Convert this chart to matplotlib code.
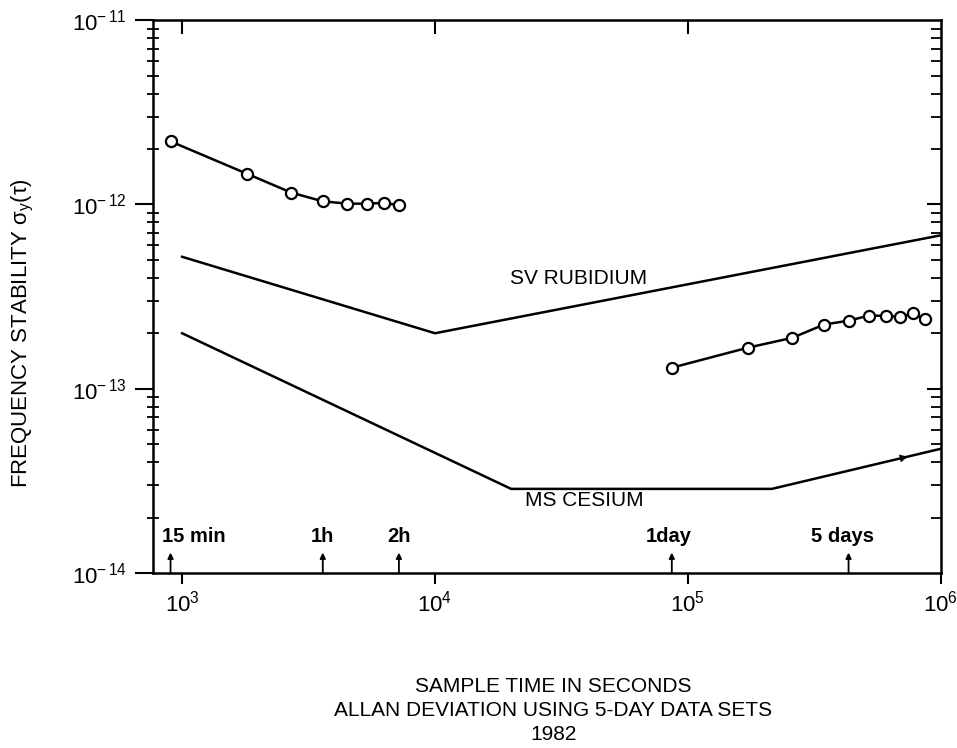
import numpy as np
import matplotlib
matplotlib.use('Agg')
import matplotlib.pyplot as plt
from matplotlib.ticker import LogLocator, NullFormatter, FixedLocator

plt.rcParams['font.family'] = ['Liberation Sans', 'DejaVu Sans']
plt.rcParams['mathtext.fontset'] = 'custom'
plt.rcParams['mathtext.rm'] = 'Liberation Sans'
plt.rcParams['mathtext.it'] = 'Liberation Sans:italic'

# measured points (seconds, Allan deviation)
tau_short = [900, 1800, 2700, 3600, 4500, 5400, 6300, 7200]
sig_short = [2.2e-12, 1.47e-12, 1.16e-12, 1.04e-12, 1.01e-12, 1.01e-12, 1.02e-12, 0.99e-12]

tau_long = [86400, 172800, 259200, 345600, 432000, 518400, 604800, 691200, 777600, 864000]
sig_long = [1.30e-13, 1.67e-13, 1.89e-13, 2.23e-13, 2.34e-13, 2.49e-13, 2.49e-13, 2.45e-13, 2.56e-13, 2.38e-13]

# spec lines
tau_rb = [1e3, 1e4, 1e6]
sig_rb = [5.2e-13, 2.0e-13, 6.8e-13]
tau_cs = [1e3, 2.0e4, 2.15e5, 1e6]
sig_cs = [2.0e-13, 2.86e-14, 2.86e-14, 4.72e-14]

# marker arrows along the bottom
mark_tau = [900, 3600, 7200, 86400, 432000]
mark_lab = ['15 min', '1h', '2h', '1day', '5 days']
mark_dx = [17, 0, 0, -2, -4]   # label offset in points

fig = plt.figure(figsize=(9.57, 7.48), dpi=100)
ax = fig.add_axes([0.160, 0.234, 0.823, 0.739])
ax.set_xscale('log')
ax.set_yscale('log')
ax.set_xlim(768, 1e6)
ax.set_ylim(1e-14, 1e-11)

lw = 1.8
ax.plot(tau_rb, sig_rb, color='black', lw=lw)
ax.plot(tau_cs, sig_cs, color='black', lw=lw)
ax.plot(tau_short, sig_short, color='black', lw=lw, marker='o', ms=8,
        mfc='white', mec='black', mew=1.6)
ax.plot(tau_long, sig_long, color='black', lw=lw, marker='o', ms=8,
        mfc='white', mec='black', mew=1.6)

# little arrowhead on cesium line
lt = np.log10(tau_cs)
ls = np.log10(sig_cs)
a0, a1 = 5.80, 5.88
y0 = 10 ** np.interp(a0, lt, ls)
y1 = 10 ** np.interp(a1, lt, ls)
ax.annotate('', xy=(10 ** a1, y1), xytext=(10 ** a0, y0),
            arrowprops=dict(arrowstyle='-|>', color='black', lw=0.1,
                            mutation_scale=14))

ax.text(1.98e4, 3.96e-13, 'SV RUBIDIUM', fontsize=15, va='center', ha='left')
ax.text(2.27e4, 2.46e-14, 'MS CESIUM', fontsize=15, va='center', ha='left')

for t, lab, dx in zip(mark_tau, mark_lab, mark_dx):
    ax.annotate('', xy=(t, 1.29e-14), xytext=(t, 1.0e-14),
                arrowprops=dict(arrowstyle='-|>', color='black', lw=1.3,
                                mutation_scale=8, shrinkA=0, shrinkB=0))
    ax.annotate(lab, xy=(t, 1.58e-14), xytext=(dx, 0), textcoords='offset points',
                ha='center', va='center', fontsize=14.5, fontweight='bold')

for s in ax.spines.values():
    s.set_linewidth(1.8)

ax.xaxis.set_major_locator(FixedLocator([1e3, 1e4, 1e5, 1e6]))
ax.xaxis.set_minor_locator(FixedLocator([]))
ax.set_xticklabels(['$10^3$', '$10^4$', '$10^5$', '$10^6$'])
ax.tick_params(axis='x', which='major', direction='out', length=8, width=1.5,
               labelsize=16, pad=5)

ax.yaxis.set_major_locator(FixedLocator([1e-14, 1e-13, 1e-12, 1e-11]))
ax.yaxis.set_minor_locator(LogLocator(base=10, subs=np.arange(2, 10)))
ax.yaxis.set_minor_formatter(NullFormatter())
ax.set_yticklabels([r'$10^{-\,14}$', r'$10^{-\,13}$', r'$10^{-\,12}$', r'$10^{-\,11}$'])
ax.tick_params(axis='y', which='major', direction='out', length=13, width=1.5,
               labelsize=16, pad=6)
ax.tick_params(axis='y', which='minor', direction='inout', length=9, width=1.3)

top = ax.secondary_xaxis('top')
top.xaxis.set_major_locator(FixedLocator([1e3, 1e4, 1e5]))
top.xaxis.set_minor_locator(FixedLocator([]))
top.tick_params(axis='x', direction='in', length=10, width=1.5, labeltop=False)

right = ax.secondary_yaxis('right')
right.yaxis.set_major_locator(FixedLocator([1e-13, 1e-12]))
right.yaxis.set_minor_locator(LogLocator(base=10, subs=np.arange(2, 10)))
right.yaxis.set_minor_formatter(NullFormatter())
right.tick_params(axis='y', which='major', direction='in', length=10, width=1.5,
                  labelright=False)
right.tick_params(axis='y', which='minor', direction='in', length=7, width=1.3)

fig.text(23 / 957, 1 - 333 / 748, r'FREQUENCY STABILITY $\mathrm{\sigma_y(\tau)}$',
         rotation=90, ha='center', va='center', fontsize=16)

fig.text(0.578, 0.082, 'SAMPLE TIME IN SECONDS', ha='center', va='center', fontsize=15)
fig.text(0.578, 0.050, 'ALLAN DEVIATION USING 5-DAY DATA SETS', ha='center', va='center', fontsize=15)
fig.text(0.578, 0.018, '1982', ha='center', va='center', fontsize=15)

fig.savefig('out.png', dpi=100)
